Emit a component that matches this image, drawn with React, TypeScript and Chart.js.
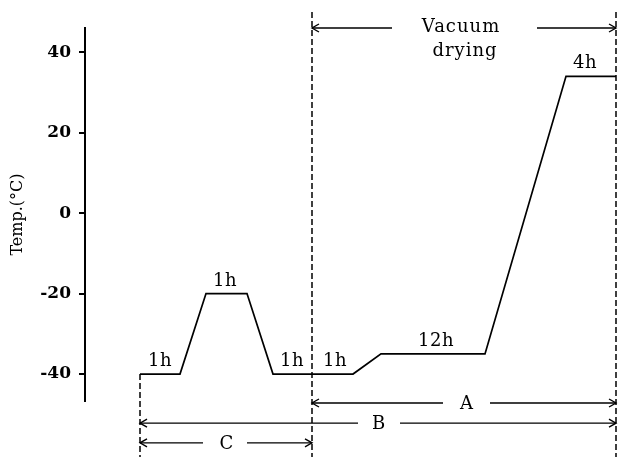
import React, { useEffect, useRef } from "react";
import { Chart, registerables } from "chart.js";

Chart.register(...registerables);

// Schematic time axis (not to scale) and temperature profile (°C)
const profileX = [5.5, 9.5, 12.1, 16.2, 18.8, 22.7, 26.8, 29.6, 40, 48.1, 53.1];
const profileTemp = [-40, -40, -20, -20, -40, -40, -40, -35, -35, 34, 34];

const yTicks = [-40, -20, 0, 20, 40];

// Stage duration labels
const stageText = ["1h", "1h", "1h", "1h", "12h", "4h"];
const stageX = [7.5, 14.0, 20.7, 25.0, 35.1, 50.0];
const stageTemp = [-40, -20, -40, -40, -35, 34];

// Dashed dividers
const dividerX = [5.5, 22.7, 53.1];
const dividerFrom = [-40, 50, 50];

// Span arrows
const spanText = [["Vacuum", "drying"], ["A"], ["B"], ["C"]];
const spanStart = [22.7, 22.7, 5.5, 5.5];
const spanEnd = [53.1, 53.1, 53.1, 22.7];
const spanLevel = [46, -47.2, -52.2, -57.1];
const spanGapStart = [30.7, 35.8, 27.3, 11.8];
const spanGapEnd = [45.2, 40.5, 31.5, 16.2];
const spanTextX = [37.8, 38.2, 29.4, 14.2];

const FONT = "DejaVu Serif";

const annotate = {
  id: "annotate",
  afterDatasetsDraw(chart: any) {
    const { ctx } = chart;
    const xs = chart.scales.x;
    const ys = chart.scales.y;
    const px = (v: number) => xs.getPixelForValue(v);
    const py = (v: number) => ys.getPixelForValue(v);
    ctx.save();
    ctx.strokeStyle = "#000";
    ctx.fillStyle = "#000";

    // dividers
    ctx.lineWidth = 1.5;
    ctx.setLineDash([6, 3]);
    dividerX.forEach((d, i) => {
      ctx.beginPath();
      ctx.moveTo(px(d), py(dividerFrom[i]));
      ctx.lineTo(px(d), chart.height);
      ctx.stroke();
    });
    ctx.setLineDash([]);

    // span arrows
    ctx.lineWidth = 1.4;
    const head = (x: number, y: number, dir: number) => {
      ctx.beginPath();
      ctx.moveTo(x + dir * 7, y - 4);
      ctx.lineTo(x, y);
      ctx.lineTo(x + dir * 7, y + 4);
      ctx.stroke();
    };
    ctx.font = `18px "${FONT}"`;
    (ctx as any).letterSpacing = "1px";
    ctx.textAlign = "center";
    spanText.forEach((lines, i) => {
      const y = py(spanLevel[i]);
      const x0 = px(spanStart[i]);
      const x1 = px(spanEnd[i]);
      ctx.beginPath();
      ctx.moveTo(x0, y);
      ctx.lineTo(px(spanGapStart[i]), y);
      ctx.moveTo(px(spanGapEnd[i]), y);
      ctx.lineTo(x1, y);
      ctx.stroke();
      head(x0, y, 1);
      head(x1, y, -1);
      const tx = px(spanTextX[i]);
      if (lines.length === 1) {
        ctx.textBaseline = "middle";
        ctx.fillText(lines[0], tx, y + 1);
      } else {
        ctx.textBaseline = "alphabetic";
        ctx.fillText(lines[0], tx - 2, y + 4);
        ctx.fillText(lines[1], tx + 2, y + 28);
      }
    });

    // stage labels
    ctx.font = `18px "${FONT}"`;
    (ctx as any).letterSpacing = "0.5px";
    ctx.textBaseline = "alphabetic";
    stageText.forEach((t, i) => {
      ctx.fillText(t, px(stageX[i]), py(stageTemp[i]) - 8);
    });
    ctx.restore();
  },
};

export default function App() {
  const ref = useRef<HTMLCanvasElement>(null);
  useEffect(() => {
    document.body.style.margin = "0";
    const chart = new Chart(ref.current as HTMLCanvasElement, {
      type: "line",
      data: {
        datasets: [
          {
            data: profileX.map((x, i) => ({ x, y: profileTemp[i] })),
            borderColor: "#000",
            borderWidth: 1.7,
            pointRadius: 0,
            tension: 0,
            fill: false,
          },
        ],
      },
      options: {
        animation: false,
        responsive: false,
        layout: { padding: { top: 28, bottom: 56, left: 0, right: 1 } },
        plugins: { legend: { display: false }, tooltip: { enabled: false } },
        scales: {
          x: { type: "linear", display: false, min: 0, max: 53.2 },
          y: {
            min: -46.7,
            max: 46,
            afterBuildTicks: (s: any) => {
              s.ticks = yTicks.map((v) => ({ value: v }));
            },
            afterFit: (s: any) => {
              s.width = 85;
            },
            border: { display: true, color: "#000", width: 2 },
            grid: { drawOnChartArea: false, drawTicks: true, color: "#000", lineWidth: 2, tickLength: 6 },
            ticks: {
              color: "#000",
              padding: 8,
              font: { family: FONT, size: 17, weight: "bold" },
            },
            title: {
              display: true,
              text: "Temp.(°C)",
              color: "#000",
              font: { family: FONT, size: 16 },
              padding: { top: 8, bottom: 0 },
            },
          },
        },
      } as any,
      plugins: [annotate],
    });
    return () => chart.destroy();
  }, []);
  return (
    <div style={{ width: 618, height: 457 }}>
      <canvas ref={ref} width={618} height={457} style={{ display: "block" }} />
    </div>
  );
}
